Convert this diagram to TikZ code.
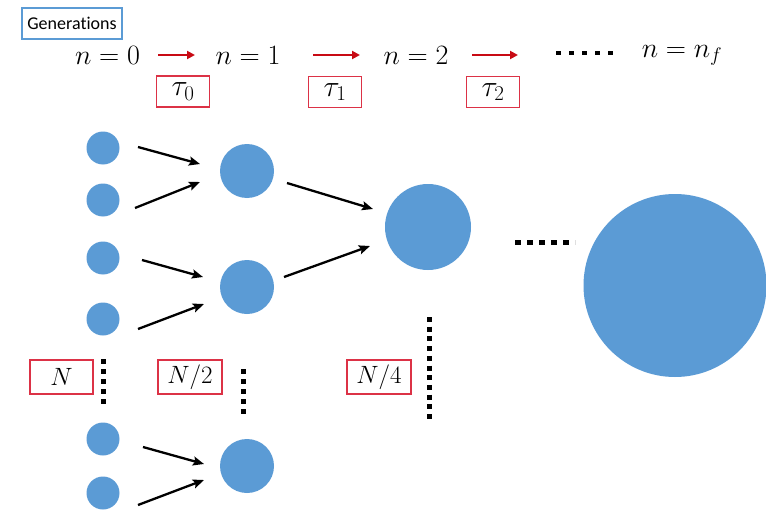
\RequirePackage{fix-cm}
\documentclass[tikz,border=0pt]{standalone}
\usepackage{fontspec}
\newfontfamily\calib[Ligatures=NoCommon]{Carlito}
\usetikzlibrary{arrows.meta}
\definecolor{cblue}{RGB}{91,155,213}
\definecolor{bred}{RGB}{220,50,70}
\definecolor{ared}{RGB}{200,10,20}
\begin{document}
\begin{tikzpicture}[x=1pt,y=-1pt,
  dot/.style={circle,fill=cblue,draw=none,inner sep=0pt,minimum size=#1},
  gen/.style={font=\fontsize{28}{32}\selectfont,inner sep=0pt},
  taubox/.style={draw=bred,line width=1.3pt,minimum width=53pt,minimum height=31pt,inner sep=0pt,font=\fontsize{30}{34}\selectfont},
  nbox/.style={draw=bred,line width=1.3pt,minimum width=63pt,minimum height=34pt,inner sep=0pt,font=\fontsize{25}{28}\selectfont},
  redarr/.style={draw=ared,line width=2.2pt,-{Triangle[length=8pt,width=8pt]}},
  blkarr/.style={draw=black,line width=2.3pt,-{Stealth[length=11pt,width=9pt,inset=2pt]}},
  sqdots/.style={draw=black,line width=5pt,dash pattern=on 5pt off 5pt}
]
\useasboundingbox[fill=white] (0,0) rectangle (766,511);

% Generations label
\node[draw=cblue,line width=1.5pt,minimum width=100pt,minimum height=31pt,inner sep=0pt,font=\calib\fontsize{18}{20}\selectfont] (genlab) at (72,23.5) {Generations};

% top row
\node[gen] (n0) at (107.5,55) {$n=0$};
\node[gen] (n1) at (248,55) {$n=1$};
\node[gen] (n2) at (416,55) {$n=2$};
\node[gen] (nf) at (682,55) {$n=n_f$};
\draw[redarr] ([xshift=50.5pt]n0.center) -- ([xshift=-53pt]n1.center);
\draw[redarr] ([xshift=65pt]n1.center) -- ([xshift=-56pt]n2.center);
\draw[redarr] ([xshift=56pt]n2.center) -- ([xshift=102pt]n2.center);
\coordinate (td1) at (556,53);
\coordinate (td2) at (614,53);
\draw[draw=black,line width=4.5pt,dash pattern=on 5pt off 8pt] (td1) -- (td2);

\node[taubox] (t0) at (183,91.5) {$\tau_0$};
\node[taubox] (t1) at (335,92) {$\tau_1$};
\node[taubox] (t2) at (493,92) {$\tau_2$};

% circles
\node[dot=33pt] (s1) at (103,148) {};
\node[dot=33pt] (s2) at (103,200) {};
\node[dot=33pt] (s3) at (103,258) {};
\node[dot=33pt] (s4) at (103,319) {};
\node[dot=33pt] (s5) at (103,439) {};
\node[dot=33pt] (s6) at (103,493) {};
\node[dot=54pt] (m1) at (247,171) {};
\node[dot=54pt] (m2) at (247,287) {};
\node[dot=54pt] (m3) at (247,466) {};
\node[dot=86pt] (L) at (428,227) {};
\node[dot=183pt] (H) at (675,285.5) {};

% arrows
\draw[blkarr] ([shift={(35,-1)}]s1.center) -- ([shift={(-47,-7)}]m1.center);
\draw[blkarr] ([shift={(32,8)}]s2.center) -- ([shift={(-47,11)}]m1.center);
\draw[blkarr] ([shift={(39,2)}]s3.center) -- ([shift={(-44,-10)}]m2.center);
\draw[blkarr] ([shift={(35,10)}]s4.center) -- ([shift={(-43,17)}]m2.center);
\draw[blkarr] ([shift={(40,8)}]s5.center) -- ([shift={(-43,-2)}]m3.center);
\draw[blkarr] ([shift={(35,12)}]s6.center) -- ([shift={(-43,14)}]m3.center);
\draw[blkarr] ([shift={(40,12)}]m1.center) -- ([shift={(-55,-18)}]L.center);
\draw[blkarr] ([shift={(37,-10)}]m2.center) -- ([shift={(-58,19)}]L.center);

% dotted continuation marks
\coordinate (hd1) at (515,242);
\coordinate (hd2) at (575,242);
\draw[sqdots,dash pattern=on 6pt off 6pt] (hd1) -- (hd2);
\coordinate (v1a) at (103,359);
\coordinate (v1b) at (103,405);
\draw[sqdots] (v1a) -- (v1b);
\coordinate (v2a) at (243,369);
\coordinate (v2b) at (243,418);
\draw[sqdots] (v2a) -- (v2b);
\coordinate (v3a) at (429,317);
\coordinate (v3b) at (429,423);
\draw[sqdots,dash pattern=on 5pt off 4.7pt] (v3a) -- (v3b);

% count labels
\node[nbox] (cN) at (61.5,377) {$N$};
\node[nbox,minimum width=64pt] (cN2) at (190,377) {$N/2$};
\node[nbox,minimum width=64pt] (cN4) at (379,377) {$N/4$};
\end{tikzpicture}
\end{document}
